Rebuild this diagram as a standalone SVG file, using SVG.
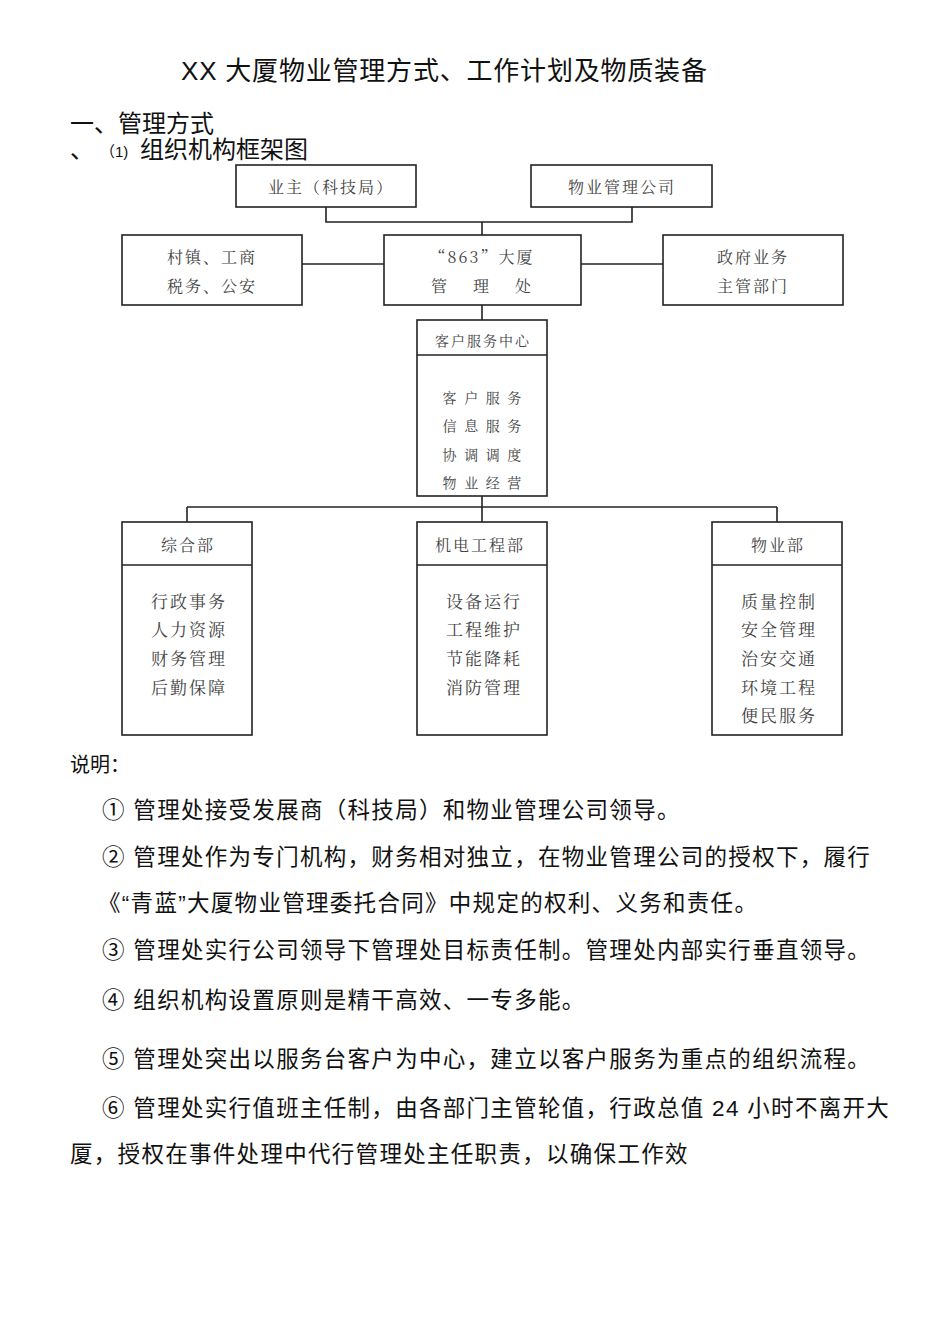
<svg xmlns="http://www.w3.org/2000/svg" width="950" height="1344" viewBox="0 0 950 1344">
<style>
.bg{fill:#fff}
.box{fill:#fff;stroke:#222;stroke-width:1.6}
.ln{stroke:#222;stroke-width:1.6;fill:none}
.ct{font-family:"Noto Serif CJK SC","Noto Sans CJK SC",serif;fill:#444;text-anchor:middle;dominant-baseline:central}
.n16{font-size:16px;letter-spacing:2px}
.n14{font-size:14px;letter-spacing:2px}
.n17{font-size:17px;letter-spacing:2px}
.tx{font-family:"Liberation Sans","Noto Sans CJK SC",sans-serif;fill:#111}
.bd{font-size:22.5px;letter-spacing:1.3px}
</style>
<rect class="bg" x="0" y="0" width="950" height="1344"/>
<text class="tx" x="181" y="80" font-size="26" letter-spacing="0.8">XX 大厦物业管理方式、工作计划及物质装备</text>
<text class="tx" x="70" y="132" font-size="24">一、管理方式</text>
<text class="tx" x="70" y="158" font-size="24">、</text>
<text class="tx" x="100" y="157" font-size="15">（1)</text>
<text class="tx" x="140" y="158" font-size="24">组织机构框架图</text>

<g id="connectors">
<polyline class="ln" points="326,207 326,222 632,222 632,207"/>
<line class="ln" x1="482" y1="222" x2="482" y2="235"/>
<line class="ln" x1="302" y1="264" x2="384" y2="264"/>
<line class="ln" x1="581" y1="264" x2="663" y2="264"/>
<line class="ln" x1="482" y1="305" x2="482" y2="320"/>
<line class="ln" x1="482" y1="496" x2="482" y2="522"/>
<line class="ln" x1="187" y1="507" x2="777" y2="507"/>
<line class="ln" x1="187" y1="507" x2="187" y2="522"/>
<line class="ln" x1="777" y1="507" x2="777" y2="522"/>
</g>

<g id="owner">
<rect class="box" x="236" y="165" width="180" height="42"/>
<text class="ct n16" x="331" y="186">业主（科技局）</text>
</g>
<g id="company">
<rect class="box" x="531" y="165" width="181" height="42"/>
<text class="ct n16" x="622" y="186">物业管理公司</text>
</g>
<g id="town">
<rect class="box" x="122" y="235" width="180" height="70"/>
<text class="ct n16" x="212" y="256">村镇、工商</text>
<text class="ct n16" x="212" y="285">税务、公安</text>
</g>
<g id="office">
<rect class="box" x="384" y="235" width="197" height="70"/>
<text class="ct n16" x="482" y="256">“863”大厦</text>
<text class="ct n16" x="482" y="285" xml:space="preserve">管　 理　 处</text>
</g>
<g id="gov">
<rect class="box" x="663" y="235" width="180" height="70"/>
<text class="ct n16" x="753" y="256">政府业务</text>
<text class="ct n16" x="753" y="285">主管部门</text>
</g>
<g id="service">
<rect class="box" x="417" y="320" width="130" height="176"/>
<line class="ln" x1="417" y1="355" x2="547" y2="355"/>
<text class="ct n14" x="483" y="340">客户服务中心</text>
<text class="ct n14" x="483" y="397" xml:space="preserve">客 户 服 务</text>
<text class="ct n14" x="483" y="425" xml:space="preserve">信 息 服 务</text>
<text class="ct n14" x="483" y="454" xml:space="preserve">协 调 调 度</text>
<text class="ct n14" x="483" y="482" xml:space="preserve">物 业 经 营</text>
</g>
<g id="general">
<rect class="box" x="122" y="522" width="130" height="213"/>
<line class="ln" x1="122" y1="565" x2="252" y2="565"/>
<text class="ct n16" x="188" y="544">综合部</text>
<text class="ct n17" x="189" y="600">行政事务</text>
<text class="ct n17" x="189" y="628">人力资源</text>
<text class="ct n17" x="189" y="657">财务管理</text>
<text class="ct n17" x="189" y="686">后勤保障</text>
</g>
<g id="engineering">
<rect class="box" x="417" y="522" width="130" height="213"/>
<line class="ln" x1="417" y1="565" x2="547" y2="565"/>
<text class="ct n16" x="480" y="544">机电工程部</text>
<text class="ct n17" x="484" y="600">设备运行</text>
<text class="ct n17" x="484" y="628">工程维护</text>
<text class="ct n17" x="484" y="657">节能降耗</text>
<text class="ct n17" x="484" y="686">消防管理</text>
</g>
<g id="property">
<rect class="box" x="712" y="522" width="130" height="213"/>
<line class="ln" x1="712" y1="565" x2="842" y2="565"/>
<text class="ct n16" x="778" y="544">物业部</text>
<text class="ct n17" x="779" y="600">质量控制</text>
<text class="ct n17" x="779" y="628">安全管理</text>
<text class="ct n17" x="779" y="657">治安交通</text>
<text class="ct n17" x="779" y="686">环境工程</text>
<text class="ct n17" x="779" y="714">便民服务</text>
</g>

<text class="tx" x="70" y="772" font-size="20">说明：</text>
<text class="tx bd" x="102" y="818">① 管理处接受发展商（科技局）和物业管理公司领导。</text>
<text class="tx bd" x="102" y="865">② 管理处作为专门机构，财务相对独立，在物业管理公司的授权下，履行</text>
<text class="tx bd" x="98" y="911">《“青蓝”大厦物业管理委托合同》中规定的权利、义务和责任。</text>
<text class="tx bd" x="102" y="958">③ 管理处实行公司领导下管理处目标责任制。管理处内部实行垂直领导。</text>
<text class="tx bd" x="102" y="1008">④ 组织机构设置原则是精干高效、一专多能。</text>
<text class="tx bd" x="102" y="1067">⑤ 管理处突出以服务台客户为中心，建立以客户服务为重点的组织流程。</text>
<text class="tx bd" x="102" y="1116">⑥ 管理处实行值班主任制，由各部门主管轮值，行政总值 24 小时不离开大</text>
<text class="tx bd" x="70" y="1162">厦，授权在事件处理中代行管理处主任职责，以确保工作效</text>
</svg>
